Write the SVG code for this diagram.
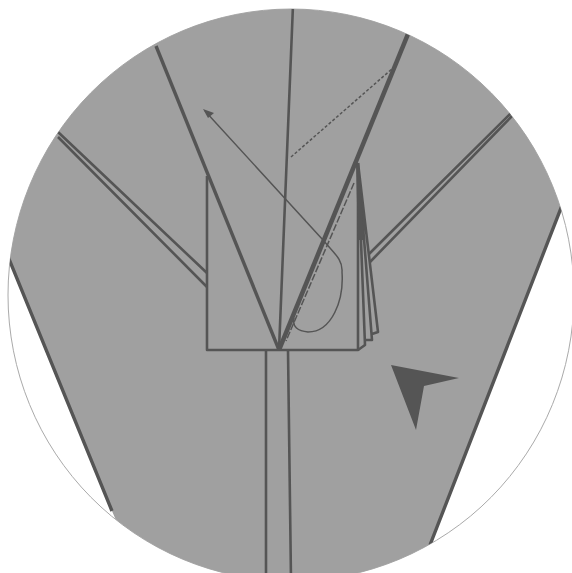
<svg xmlns="http://www.w3.org/2000/svg" width="572" height="573" viewBox="0 0 572 573">
<defs>
<style>
.l{fill:none;stroke:#555;stroke-linecap:butt;stroke-linejoin:round}
.k{stroke-width:4.6}.t{stroke-width:3.4}.m{stroke-width:2.6}.n{stroke-width:1.5}
</style>
<clipPath id="c"><ellipse cx="291" cy="295" rx="283" ry="286"/></clipPath>
</defs>
<rect width="572" height="573" fill="#fff"/>
<ellipse cx="291" cy="295" rx="283" ry="286" fill="none" stroke="#aaa" stroke-width="1"/>
<g id="paper" clip-path="url(#c)">
<polygon points="0,236 10,262 112,511 150,600 400,600 430,545 562,205 580,160 580,0 0,0" fill="#a0a0a0"/>
</g>
<g id="connectors" clip-path="url(#c)">
<path class="l t" d="M0,237L112,511M575,172L430,545"/>
<path class="l m" d="M293,5L279,350M266,350V580M288,350L291,580"/>
<path class="l t" d="M156,46L279,350"/>
<path class="l k" d="M279,350L408,34"/>
<path class="l m" d="M207,176V350H358V163"/>
<path class="l m" d="M58,132L207,273M58,137L207,287M512,112L369,254M512,116L370,262"/>
<path class="l m" d="M358,350L365,345L358,163M365,340H372L358,163M372,334L378,332L358,163"/>
<polygon points="356,165 359,163 364,240 358,240" fill="#555"/>
<path class="l n" d="M205,111L323,240C335,254 343,260 342,272C344,300 332,332 308,332C298,331 292,327 294,318"/>
<path class="l n" stroke-dasharray="3 2" d="M291,157L393,68"/>
<path class="l n" stroke-dasharray="7 2" d="M354,183L286,341"/>
</g>
<polygon id="arrowhead-thin" points="203,109 214,113 208,118" fill="#555"/>
<polygon id="arrow" points="391,365 459,378 424,386 416,430" fill="#555"/>
</svg>
